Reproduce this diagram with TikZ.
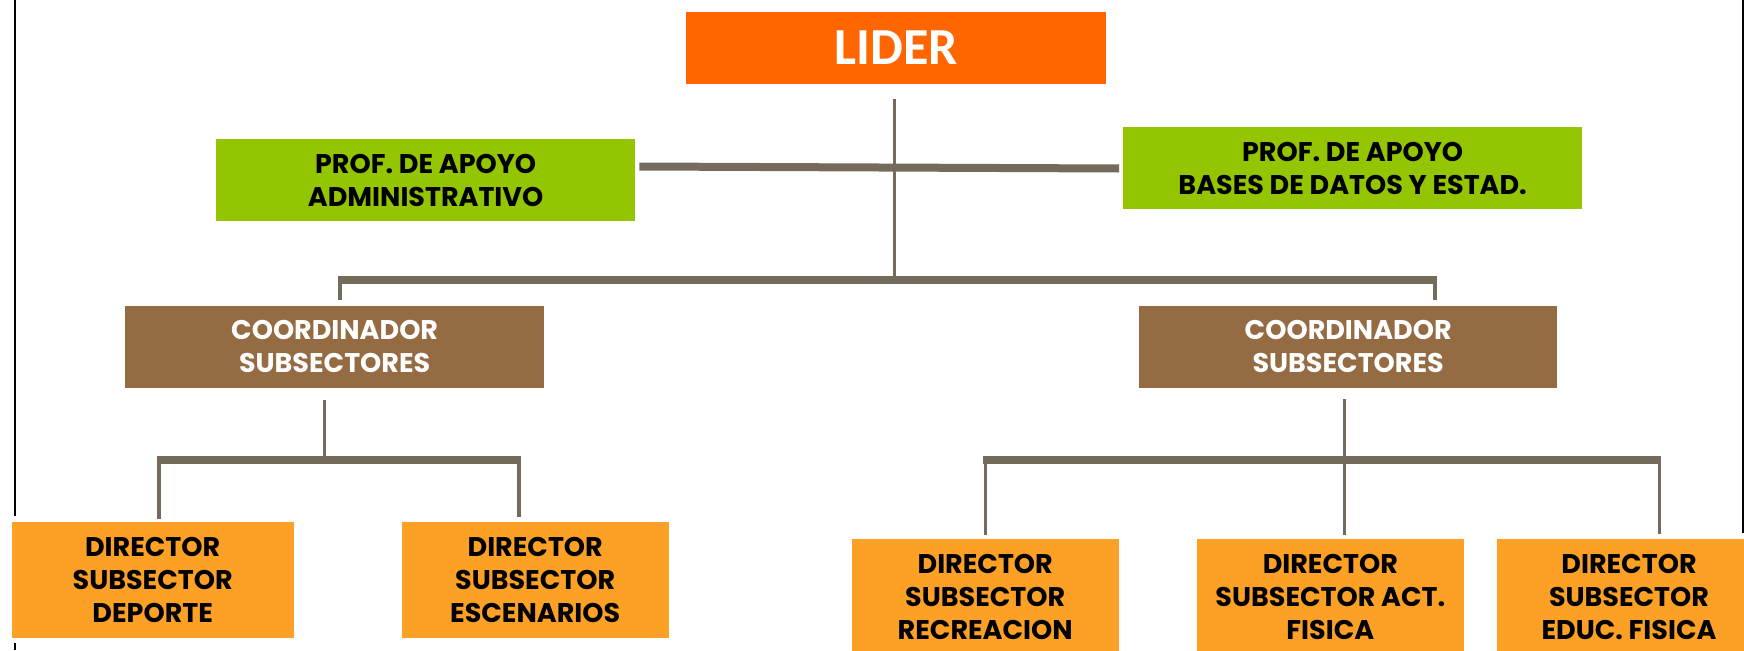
\documentclass[tikz,border=0pt]{standalone}
\usepackage{fontspec}
\setmainfont{Poppins}
\newfontfamily\liderfont{Carlito}
\definecolor{liderc}{HTML}{FF6600}
\definecolor{greenc}{HTML}{93C500}
\definecolor{brownc}{HTML}{956B43}
\definecolor{orangec}{HTML}{FDA026}
\definecolor{linec}{HTML}{756B5C}
\tikzset{
  box/.style={rectangle, inner sep=0pt, align=center, text=black,
    font=\bfseries\fontsize{27}{33}\selectfont},
  greenbox/.style={box, fill=greenc, minimum width=#1, minimum height=82pt},
  brownbox/.style={box, fill=brownc, text=white, minimum width=418.5pt, minimum height=82pt},
  dirbox/.style={box, fill=orangec, minimum width=#1, minimum height=116.3pt},
  bar/.style={draw=linec, line width=8pt},
  stem/.style={draw=linec, line width=3pt},
  leg/.style={draw=linec, line width=4pt},
  border/.style={draw=black, line width=2pt}
}
\begin{document}
\begin{tikzpicture}[x=1pt,y=-1pt]
\clip (0,0) rectangle (1744,650);
\fill[white] (0,0) rectangle (1744,650);

% boxes
\node[rectangle, inner sep=0pt, fill=liderc, text=white, minimum width=419.4pt, minimum height=72.6pt,
  font=\liderfont\bfseries\fontsize{52}{60}\selectfont] (lider) at (896,48) {LIDER};
\node[greenbox=418.7pt] (apoyoL) at (425.65,180.3) {PROF. DE APOYO\\ADMINISTRATIVO};
\node[greenbox=458.7pt] (apoyoR) at (1352.65,168.15) {PROF. DE APOYO\\BASES DE DATOS Y ESTAD.};
\node[brownbox] (coordL) at (334.65,346.7) {COORDINADOR\\SUBSECTORES};
\node[brownbox] (coordR) at (1348.15,346.7) {COORDINADOR\\SUBSECTORES};
\node[dirbox=282pt, minimum height=116pt] (depo) at (152.7,580.3) {DIRECTOR\\SUBSECTOR\\DEPORTE};
\node[dirbox=267pt, minimum height=116pt] (esce) at (535.2,580.3) {DIRECTOR\\SUBSECTOR\\ESCENARIOS};
\node[dirbox=267pt] (recr) at (985.2,596.9) {DIRECTOR\\SUBSECTOR\\RECREACION};
\node[dirbox=267.3pt] (actf) at (1330.35,596.9) {DIRECTOR\\SUBSECTOR ACT.\\FISICA};
\node[dirbox=264pt] (educ) at (1629,596.9) {DIRECTOR\\SUBSECTOR\\EDUC. FISICA};

% coordinates of connector ends
\coordinate (lidstem) at (894.7,99.3);
\coordinate (topbar) at (894.7,279.5);
\coordinate (tbL) at (340,279.5);
\coordinate (tbR) at (1434.7,279.5);
\coordinate (gL) at (639.3,166.5);
\coordinate (gR) at (1119,168.5);
\coordinate (cLs) at (324,400);
\coordinate (cLb) at (324,459.5);
\coordinate (bLl) at (158.7,459.5);
\coordinate (bLr) at (519,459.5);
\coordinate (cRs) at (1344,399);
\coordinate (bRl) at (985.3,459.5);
\coordinate (bRr) at (1659,459.5);

% connectors
\draw[stem] (lidstem) -- (topbar);
\draw[bar] (gL) -- (gR);
\draw[bar] ([xshift=-2pt]tbL) -- ([xshift=2pt]tbR);
\draw[leg] (tbL) -- (tbL |- 0,300);
\draw[leg] (tbR) -- (tbR |- 0,300);

\draw[stem] (cLs) -- (cLb);
\draw[bar] ([xshift=-2pt]bLl) -- ([xshift=2pt]bLr);
\draw[leg] (bLl) -- (bLl |- 0,519.3);
\draw[leg] (bLr) -- (bLr |- 0,516.7);

\draw[bar] ([xshift=-2pt]bRl) -- ([xshift=2pt]bRr);
\draw[stem] (cRs) -- (cRs |- 0,535);
\draw[stem] (bRl) -- (bRl |- 0,535);
\draw[stem] (bRr) -- (bRr |- 0,534);

% page borders
\draw[border] (14.7,0) -- (14.7,516);
\draw[border] (14.7,643) -- (14.7,650);
\draw[border] (1743,0) -- (1743,533);
\end{tikzpicture}
\end{document}
